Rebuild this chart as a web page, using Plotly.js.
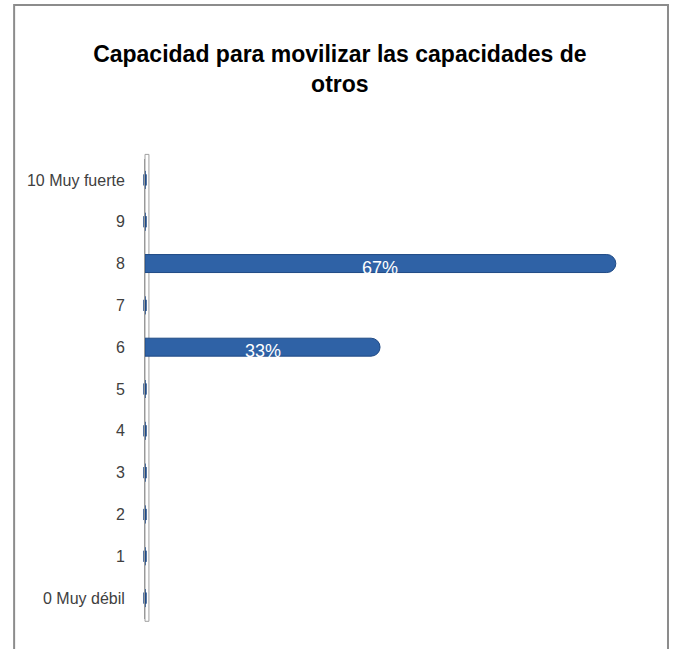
<!DOCTYPE html>
<html>
<head>
<meta charset="utf-8">
<script src="https://cdn.plot.ly/plotly-3.0.1.min.js"></script>
<style>
html,body{margin:0;padding:0;background:#fff;}
#chart{width:673px;height:649px;}
</style>
</head>
<body>
<div id="chart"></div>
<script>
// Data
const categories = ["0 Muy débil","1","2","3","4","5","6","7","8","9","10 Muy fuerte"];
const values = [0, 0, 0, 0, 0, 0, 0.333, 0, 0.667, 0, 0];
const labels = values.map(v => v > 0 ? Math.round(v*100) + "%" : "");
const titleText = "Capacidad para movilizar las capacidades de<br>otros";

const barColor = "#2f62a6";

const zeroCats = categories.filter((c,i) => values[i] === 0);
const zeroVals = values.filter(v => v === 0);

const traces = [
  {
    type: "bar",
    orientation: "h",
    y: categories,
    x: values,
    width: 0.43,
    marker: {color: barColor, cornerradius: 9, line: {color: "#1f4a85", width: 1}},
    textposition: "none",
    hoverinfo: "x+y"
  },
  {
    type: "scatter",
    mode: "markers",
    y: zeroCats,
    x: zeroVals,
    marker: {symbol: "line-ns-open", size: 8, color: "#1f4a85", line: {color: "#1f4a85", width: 3.5}},
    cliponaxis: false,
    hoverinfo: "skip"
  }
];

const annotations = values.map((v,i) => v > 0 ? {
  x: v/2, y: categories[i], xref: "x", yref: "y",
  text: labels[i], showarrow: false, yshift: -4,
  font: {family: "Liberation Sans, Arial", size: 18, color: "#ffffff"}
} : null).filter(a => a);

const layout = {
  width: 673, height: 649,
  margin: {l: 145, r: 36, t: 159, b: 30},
  paper_bgcolor: "#ffffff",
  plot_bgcolor: "#ffffff",
  showlegend: false,
  title: {
    text: titleText,
    x: 0.505, xref: "container", xanchor: "center",
    y: 0.904, yref: "container", yanchor: "middle",
    font: {family: "Liberation Sans, Arial", size: 23, color: "#000000", weight: "bold"}
  },
  xaxis: {
    range: [0, 0.697],
    visible: false,
    fixedrange: true
  },
  yaxis: {
    type: "category",
    categoryorder: "array",
    categoryarray: categories,
    range: [-0.5, 10.5],
    showline: true, linecolor: "#999999", linewidth: 1,
    showgrid: false, zeroline: false,
    ticks: "outside", ticklen: 16, tickcolor: "rgba(0,0,0,0)",
    tickfont: {family: "Liberation Sans, Arial", size: 16, color: "#404040"},
    fixedrange: true
  },
  shapes: [
    {type: "rect", xref: "paper", yref: "paper", x0: -0.266, x1: 1.063, y0: -0.12, y1: 1.335,
     line: {color: "#8c8c8c", width: 2}, fillcolor: "rgba(0,0,0,0)", layer: "below"},
    {type: "rect", xref: "paper", yref: "paper", x0: 0, x1: 0.008, y0: -0.005, y1: 1.01,
     line: {color: "#a0a0a0", width: 1}, fillcolor: "rgba(0,0,0,0)", layer: "below"}
  ],
  annotations: annotations,
  bargap: 0.57
};

Plotly.newPlot("chart", traces, layout, {displayModeBar: false, staticPlot: true});
</script>
</body>
</html>
